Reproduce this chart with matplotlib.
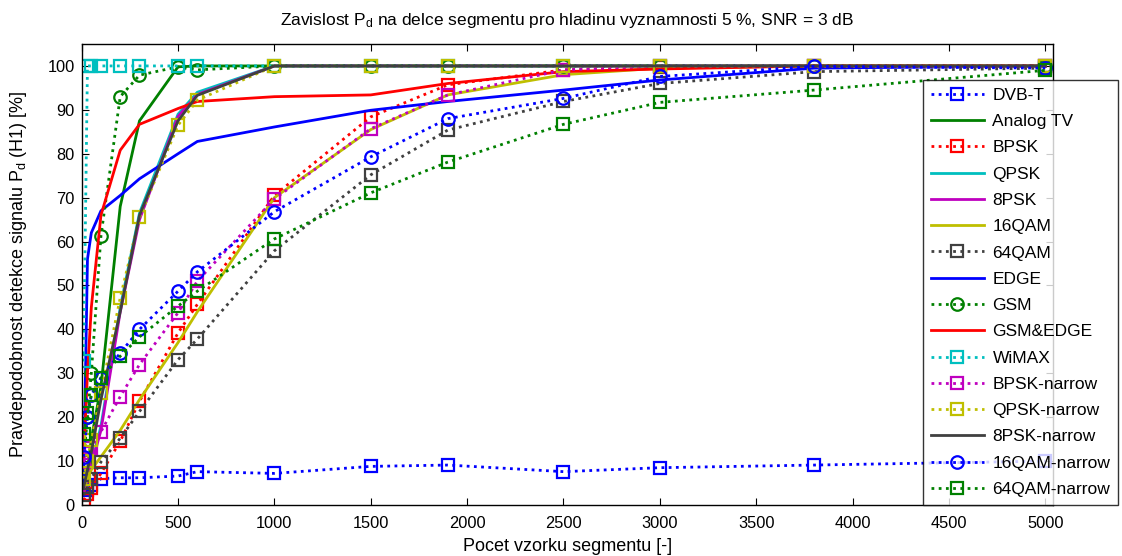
import matplotlib
matplotlib.use("Agg")
import matplotlib.pyplot as plt

plt.rcParams['font.family'] = ['Liberation Sans', 'DejaVu Sans']
plt.rcParams['mathtext.fontset'] = 'custom'
plt.rcParams['mathtext.rm'] = 'Liberation Sans'
plt.rcParams['mathtext.it'] = 'Liberation Sans'

# segment lengths
x = [10, 30, 50, 100, 200, 300, 500, 600, 1000, 1500, 1900, 2500, 3000, 3800, 5000]

dvbt      = [2.5, 3.5, 4.5, 6.0, 6.2, 6.2, 6.6, 7.6, 7.2, 8.8, 9.1, 7.6, 8.5, 9.1, 10.0]
analog_tv = [3, 8, 15, 27, 68, 87.5, 99.8, 100, 100, 100, 100, 100, 100, 100, 100]
bpsk      = [1.1, 2.5, 3.8, 7.2, 14.5, 23.6, 39.2, 45.7, 70.5, 88.4, 95.7, 99.1, 99.8, 100, 100]
qpsk      = [3, 6, 9, 18, 45, 66.5, 89, 94, 100, 100, 100, 100, 100, 100, 100]
psk8      = [3, 6, 9, 17, 44, 65, 88.5, 93.5, 100, 100, 100, 100, 100, 100, 100]
qam16     = [4, 6, 8, 11, 17, 24, 37, 44, 70, 85.5, 93.4, 98, 99.5, 100, 100]
qam64     = [2.2, 4, 6, 9.8, 15.2, 21.3, 33.1, 37.8, 57.9, 75.2, 85.4, 91.9, 96.0, 98.7, 99.5]
edge      = [5, 56, 62, 67, 70.5, 74.3, 80, 82.8, 86.1, 89.9, 91.9, 94.5, 96.8, 99.5, 100]
gsm       = [10, 20, 30, 61.3, 93, 97.9, 99.8, 99.1, 100, 100, 100, 100, 100, 100, 100]
gsm_edge  = [10, 30, 45, 66, 80.8, 86.7, 90.3, 91.9, 93, 93.4, 96, 98.7, 99.3, 100, 100]
wimax     = [32.7, 100, 100, 100, 100, 100, 100, 100, 100, 100, 100, 100, 100, 100, 100]
bpsk_n    = [9.8, 11.8, 13, 16.7, 24.7, 32, 43.8, 51, 69.7, 85.7, 93.4, 99.1, 100, 100, 100]
qpsk_n    = [6.0, 10, 14.8, 25.5, 47.2, 65.5, 86.5, 92.2, 100, 100, 100, 100, 100, 100, 100]
psk8_n    = [4, 8, 12, 24, 44, 66, 87.5, 93.3, 100, 100, 100, 100, 100, 100, 100]
qam16_n   = [11, 20, 25, 29, 34.6, 40, 48.7, 53.1, 66.8, 79.3, 88.0, 92.6, 97.6, 99.9, 99.5]
qam64_n   = [16.2, 21, 25, 28.9, 33.9, 38.3, 45.3, 48.7, 60.6, 71.1, 78.1, 86.7, 91.7, 94.5, 99.0]

labels = ['DVB-T', 'Analog TV', 'BPSK', 'QPSK', '8PSK', '16QAM', '64QAM', 'EDGE',
          'GSM', 'GSM&EDGE', 'WiMAX', 'BPSK-narrow', 'QPSK-narrow', '8PSK-narrow',
          '16QAM-narrow', '64QAM-narrow']
series = [dvbt, analog_tv, bpsk, qpsk, psk8, qam16, qam64, edge, gsm, gsm_edge,
          wimax, bpsk_n, qpsk_n, psk8_n, qam16_n, qam64_n]

B = (0, 0, 1); G = (0, 0.5, 0); R = (1, 0, 0); C = (0, 0.75, 0.75)
M = (0.75, 0, 0.75); Y = (0.75, 0.75, 0); K = (0.25, 0.25, 0.25)
dot = (0, (1, 1.6))
styles = [
    (B, dot, 's'), (G, '-', None), (R, dot, 's'), (C, '-', None), (M, '-', None),
    (Y, '-', None), (K, dot, 's'), (B, '-', None), (G, dot, 'o'), (R, '-', None),
    (C, dot, 's'), (M, dot, 's'), (Y, dot, 's'), (K, '-', None), (B, dot, 'o'),
    (G, dot, 's'),
]

fig = plt.figure(figsize=(11.22, 5.56), dpi=100)
ax = fig.add_axes([0.0728, 0.0917, 0.8657, 0.8292])

for y, lab, (col, ls, mk) in zip(series, labels, styles):
    ax.plot(x, y, color=col, linestyle=ls, linewidth=2.0, marker=mk,
            markersize=9, markerfacecolor='none', markeredgecolor=col,
            markeredgewidth=1.6, label=lab)

ax.set_xlim(0, 5040)
ax.set_ylim(0, 105)
ax.set_xticks(range(0, 5001, 500))
ax.set_yticks(range(0, 101, 10))
ax.tick_params(direction='in', top=True, right=True, length=5, labelsize=11.8)
ax.tick_params(axis='x', pad=8)
ax.tick_params(axis='y', pad=5)
for s in ax.spines.values():
    s.set_linewidth(1.0)

ax.set_xlabel('Pocet vzorku segmentu [-]', fontsize=13, labelpad=5)
ax.set_ylabel(r'Pravdepodobnost detekce signalu P$_\mathrm{d}$ (H1) [%]', fontsize=13, labelpad=13)
ax.set_title(r'Zavislost P$_\mathrm{d}$ na delce segmentu pro hladinu vyznamnosti 5 %, SNR = 3 dB',
             fontsize=12.5, pad=14)

leg = fig.legend(loc='upper left', bbox_to_anchor=(923 / 1122, 1 - 80 / 556),
                 fontsize=12.5, frameon=True, fancybox=False, edgecolor='black',
                 handlelength=3.05, handletextpad=0.5, labelspacing=0.64,
                 borderpad=0.45, borderaxespad=0)
leg.get_frame().set_linewidth(1.0)

fig.savefig('out.png', dpi=100)
